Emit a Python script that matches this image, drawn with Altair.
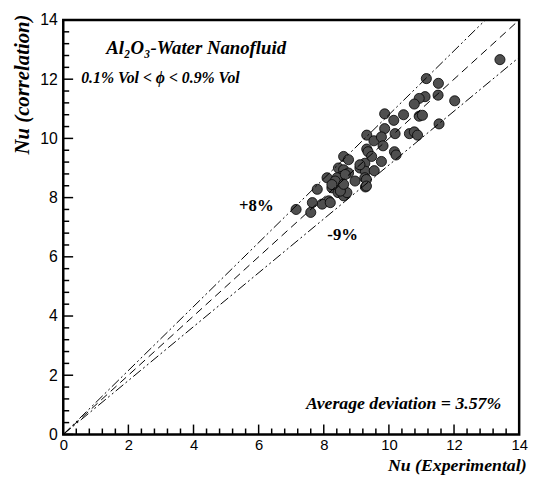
import altair as alt
import pandas as pd

# ---- data ----
nu_exp = [11.15, 11.52, 11.51, 11.11, 10.93, 10.78, 12.02, 9.87, 10.15, 10.45,
          10.93, 11.03, 11.54, 9.87, 10.19, 10.63, 10.78, 10.88, 9.32, 9.54,
          9.77, 9.82, 9.32, 9.36, 9.47, 10.17, 10.22, 9.77, 8.61, 8.76,
          9.11, 9.26, 9.28, 9.55, 8.45, 8.61, 8.76, 8.56, 8.41, 9.26,
          8.10, 8.25, 8.56, 8.44, 8.61, 9.28, 7.80, 8.15, 7.95, 7.65,
          7.60, 8.20, 7.15, 13.41, 9.11, 9.31, 8.66, 8.71, 8.35, 8.51,
          8.61, 8.96, 9.31, 8.25]
nu_corr = [12.02, 11.86, 11.46, 11.41, 11.35, 11.16, 11.27, 10.83, 10.61, 10.80,
           10.75, 10.78, 10.49, 10.33, 10.16, 10.16, 10.22, 10.11, 10.11, 9.92,
           10.05, 9.75, 9.64, 9.55, 9.39, 9.55, 9.44, 9.22, 9.39, 9.28,
           9.00, 9.16, 8.89, 8.91, 9.00, 8.94, 8.83, 8.72, 8.67, 8.67,
           8.67, 8.33, 8.33, 8.17, 8.06, 8.36, 8.28, 7.89, 7.78, 7.83,
           7.50, 7.83, 7.60, 12.66, 9.11, 8.61, 8.78, 8.17, 8.56, 8.22,
           8.45, 8.56, 8.39, 8.44]

tick_values = [0, 2, 4, 6, 8, 10, 12, 14]
minor_values = [round(i * 0.4, 1) for i in range(36) if round(i * 0.4, 1) % 2 != 0]

line_x = [0, 14]
upper_factor = 1.08   # +8%
lower_factor = 0.91   # -9%

W, H = 462, 420
SERIF = "Liberation Serif"
SANS = "Liberation Sans"

xs = alt.Scale(domain=[0, 14], nice=False, zero=True)
ys = alt.Scale(domain=[0, 14], nice=False, zero=True)

pts = pd.DataFrame({"x": nu_exp, "y": nu_corr})

x_axis = alt.Axis(values=tick_values, format="d", grid=False, ticks=False, domain=False,
                  labelFont=SANS, labelFontSize=15, labelColor="black", labelPadding=3,
                  labelFlush=False, labelOverlap=False,
                  title="Nu (Experimental)", titleFont=SERIF, titleFontSize=18,
                  titleFontStyle="italic", titleFontWeight="bold", titleColor="black",
                  titleAnchor="end", titleAlign="right", titleX=469, titleY=37,
                  titleBaseline="alphabetic")
y_axis = alt.Axis(values=tick_values, format="d", grid=False, ticks=False, domain=False,
                  labelFont=SANS, labelFontSize=16, labelColor="black", labelPadding=6,
                  labelFlush=False, labelOverlap=False,
                  title="Nu (correlation)", titleFont=SERIF, titleFontSize=21,
                  titleFontStyle="italic", titleFontWeight="bold", titleColor="black",
                  titleAngle=270, titleAlign="right", titleX=-41, titleY=-6,
                  titleBaseline="middle")

base_pts = alt.Chart(pts).mark_circle(size=105, color="#4f4f4f", stroke="black",
                                      strokeWidth=0.8, opacity=1).encode(
    x=alt.X("x:Q", scale=xs, axis=x_axis),
    y=alt.Y("y:Q", scale=ys, axis=y_axis),
)

def ref_line(factor, dash):
    df = pd.DataFrame({"x": line_x, "y": [v * factor for v in line_x]})
    return alt.Chart(df).mark_line(color="black", strokeWidth=1, strokeDash=dash,
                                   clip=True).encode(
        x=alt.X("x:Q", scale=xs), y=alt.Y("y:Q", scale=ys))

upper = ref_line(upper_factor, [10, 3, 2, 3, 2, 3])
middle = ref_line(1.0, [8, 5])
lower = ref_line(lower_factor, [10, 3, 2, 3, 2, 3])

# inward tick marks
def xticks(vals, length):
    return alt.Chart(pd.DataFrame({"v": vals})).mark_rule(color="black", strokeWidth=1.5).encode(
        x=alt.X("v:Q", scale=xs), y=alt.value(H), y2=alt.value(H - length))

def yticks(vals, length):
    return alt.Chart(pd.DataFrame({"v": vals})).mark_rule(color="black", strokeWidth=1.5).encode(
        y=alt.Y("v:Q", scale=ys), x=alt.value(0), x2=alt.value(length))

ticks = [xticks(tick_values, 10), xticks(minor_values, 6),
         yticks(tick_values, 10), yticks(minor_values, 6)]

# annotations
ann_text = ["Al\u2082O\u2083-Water Nanofluid", "0.1% Vol  < \u03d5 <  0.9% Vol",
            "Average deviation = 3.57%"]
ann_x = [1.32, 0.55, 13.45]
ann_y = [13.05, 12.05, 1.03]
ann_size = [19, 16, 18]
ann_align = ["left", "left", "right"]

texts = []
for t, ax_, ay_, s, al in zip(ann_text, ann_x, ann_y, ann_size, ann_align):
    texts.append(alt.Chart(pd.DataFrame({"x": [ax_], "y": [ay_], "t": [t]})).mark_text(
        font=SERIF, fontStyle="italic", fontWeight="bold", fontSize=s, align=al,
        baseline="middle", color="black").encode(
        x=alt.X("x:Q", scale=xs), y=alt.Y("y:Q", scale=ys), text="t:N"))

pct_text = ["+8%", "-9%"]
pct_x = [5.93, 8.58]
pct_y = [7.73, 6.73]
texts.append(alt.Chart(pd.DataFrame({"x": pct_x, "y": pct_y, "t": pct_text})).mark_text(
    font=SERIF, fontWeight="bold", fontSize=17, align="center", baseline="middle",
    color="black").encode(x=alt.X("x:Q", scale=xs), y=alt.Y("y:Q", scale=ys), text="t:N"))

chart = alt.layer(base_pts, upper, middle, lower, *ticks, *texts).properties(
    width=W, height=H,
    autosize=alt.AutoSizeParams(type="none"),
    padding={"left": 56, "top": 9, "right": 12, "bottom": 41},
).configure_view(stroke="black", strokeWidth=2.5)

chart.save("out.html", embed_options={"renderer": "svg", "actions": False})
